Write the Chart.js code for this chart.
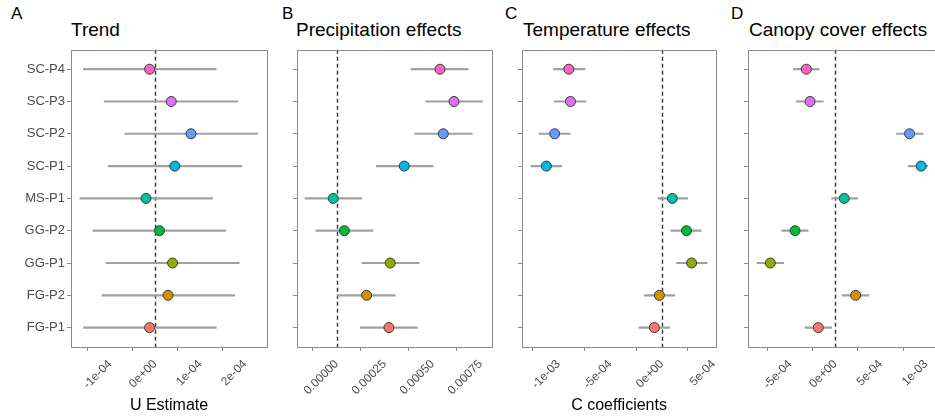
<!DOCTYPE html>
<html>
<head>
<meta charset="utf-8">
<script src="https://cdn.jsdelivr.net/npm/chart.js@4.4.0/dist/chart.umd.min.js"></script>
<style>
  html, body { margin: 0; padding: 0; background: #fff; overflow: hidden; }
  body { width: 935px; height: 419px; position: relative; font-family: "Liberation Sans", Arial, sans-serif; }
  canvas { position: absolute; top: 40px; }
  .letter { position: absolute; top: 5px; font-size: 17px; line-height: 17px; color: #000; }
  .title { position: absolute; top: 20px; font-size: 19px; line-height: 19px; color: #000; white-space: nowrap; }
</style>
</head>
<body>
<div class="letter" style="left:11px">A</div>
<div class="letter" style="left:282px">B</div>
<div class="letter" style="left:505px">C</div>
<div class="letter" style="left:731px">D</div>
<div class="title" style="left:71px">Trend</div>
<div class="title" style="left:296px">Precipitation effects</div>
<div class="title" style="left:523px">Temperature effects</div>
<div class="title" style="left:749px">Canopy cover effects</div>

<canvas id="chartA" width="279" height="379" style="left:0px"></canvas>
<canvas id="chartB" width="227" height="379" style="left:277px"></canvas>
<canvas id="chartC" width="228" height="379" style="left:502px"></canvas>
<canvas id="chartD" width="228" height="379" style="left:728px"></canvas>

<script>
// categories, top to bottom
const categories = ['SC-P4', 'SC-P3', 'SC-P2', 'SC-P1', 'MS-P1', 'GG-P2', 'GG-P1', 'FG-P2', 'FG-P1'];
const pointColors = ['#FF61C3', '#DB72FB', '#619CFF', '#00B9E3', '#00C19F', '#00BA38', '#93AA00', '#D39200', '#F8766D'];

// A - Trend (U estimate)
const trendEst = [-1.2e-5, 3.6e-5, 8.0e-5, 4.4e-5, -2.0e-5, 1.0e-5, 3.9e-5, 2.9e-5, -1.2e-5];
const trendLo = [-1.59e-4, -1.13e-4, -0.67e-4, -1.04e-4, -1.67e-4, -1.38e-4, -1.09e-4, -1.18e-4, -1.59e-4];
const trendHi = [1.36e-4, 1.84e-4, 2.28e-4, 1.93e-4, 1.28e-4, 1.57e-4, 1.87e-4, 1.77e-4, 1.36e-4];
const trendTicks = [-1e-4, 0, 1e-4, 2e-4];
const trendTickLabels = ['-1e-04', '0e+00', '1e-04', '2e-04'];

// B - Precipitation effects
const precipEst = [0.000538, 0.000611, 0.000555, 0.000352, -0.000018, 0.000040, 0.000279, 0.000156, 0.000272];
const precipLo = [0.000387, 0.000464, 0.000408, 0.000206, -0.000165, -0.000108, 0.000132, 0.000000, 0.000123];
const precipHi = [0.000685, 0.000760, 0.000706, 0.000502, 0.000130, 0.000189, 0.000429, 0.000305, 0.000420];
const precipTicks = [0, 0.00025, 0.0005, 0.00075];
const precipTickLabels = ['0.00000', '0.00025', '0.00050', '0.00075'];

// C - Temperature effects
const tempEst = [-9.0e-4, -8.84e-4, -1.037e-3, -1.117e-3, 1.0e-4, 2.37e-4, 2.87e-4, -2.5e-5, -7.3e-5];
const tempLo = [-1.047e-3, -1.04e-3, -1.188e-3, -1.267e-3, -3.8e-5, 8.6e-5, 1.41e-4, -1.69e-4, -2.23e-4];
const tempHi = [-7.43e-4, -7.34e-4, -8.87e-4, -9.7e-4, 2.49e-4, 3.8e-4, 4.38e-4, 1.25e-4, 7.4e-5];
const tempTicks = [-1e-3, -5e-4, 0, 5e-4];
const tempTickLabels = ['-1e-03', '-5e-04', '0e+00', '5e-04'];

// D - Canopy cover effects
const canopyEst = [-3.2e-4, -2.79e-4, 8.21e-4, 9.49e-4, 9.9e-5, -4.45e-4, -7.18e-4, 2.25e-4, -1.88e-4];
const canopyLo = [-4.64e-4, -4.3e-4, 6.78e-4, 8.06e-4, -4.0e-5, -5.92e-4, -8.64e-4, 7.7e-5, -3.35e-4];
const canopyHi = [-1.77e-4, -1.32e-4, 9.71e-4, 1.02e-3, 2.47e-4, -3.01e-4, -5.7e-4, 3.72e-4, -4.0e-5];
const canopyTicks = [-5e-4, 0, 5e-4, 1e-3];
const canopyTickLabels = ['-5e-04', '0e+00', '5e-04', '1e-03'];

const textGrey = '#4d4d4d';
const FONT = '"Liberation Sans", Arial, sans-serif';

// dashed zero line + panel border
const framePlugin = {
    id: 'frame',
    beforeDatasetsDraw(chart) {
        const { ctx, chartArea: a } = chart;
        const x0 = Math.round(chart.scales.x.getPixelForValue(0)) + 0.5;
        ctx.save();
        ctx.strokeStyle = '#333';
        ctx.lineWidth = 1.4;
        ctx.setLineDash([4, 3]);
        ctx.beginPath();
        ctx.moveTo(x0, a.top);
        ctx.lineTo(x0, a.bottom);
        ctx.stroke();
        ctx.restore();
    },
    afterDraw(chart) {
        const { ctx, chartArea: a } = chart;
        ctx.save();
        ctx.strokeStyle = '#8a8a8a';
        ctx.lineWidth = 1;
        ctx.strokeRect(Math.round(a.left) + 0.5, Math.round(a.top) + 0.5,
            Math.round(a.right - a.left), Math.round(a.bottom - a.top));
        ctx.restore();
    }
};

function makePanel(id, est, lo, hi, xMin, xMax, tickVals, tickLabels, xTitle, yWidth, showLabels) {
    const ctx = document.getElementById(id).getContext('2d');
    return new Chart(ctx, {
        type: 'bar',
        data: {
            datasets: [{
                type: 'bar',
                indexAxis: 'y',
                data: categories.map((c, i) => ({ y: i, x: [lo[i], hi[i]] })),
                backgroundColor: '#a0a0a0',
                borderWidth: 0,
                barThickness: 1.5,
                order: 2
            }, {
                type: 'scatter',
                data: categories.map((c, i) => ({ x: est[i], y: i })),
                pointRadius: 5,
                pointBackgroundColor: pointColors,
                pointBorderColor: '#3a3a3a',
                pointBorderWidth: 1,
                order: 1
            }]
        },
        options: {
            responsive: false,
            animation: false,
            devicePixelRatio: 1,
            layout: { padding: { top: 6, right: 12, left: 0, bottom: 0 } },
            plugins: { legend: { display: false }, tooltip: { enabled: false } },
            scales: {
                x: {
                    type: 'linear',
                    min: xMin,
                    max: xMax,
                    offset: false,
                    beginAtZero: false,
                    border: { display: false },
                    grid: { drawOnChartArea: false, drawTicks: true, tickLength: 4, color: '#8a8a8a' },
                    afterBuildTicks: s => { s.ticks = tickVals.map(v => ({ value: v })); },
                    afterFit: s => { s.height = 72; },
                    ticks: {
                        minRotation: 45,
                        maxRotation: 45,
                        autoSkip: false,
                        padding: 6,
                        color: textGrey,
                        font: { family: FONT, size: 12 },
                        callback: (v, i) => tickLabels[i]
                    },
                    title: {
                        display: xTitle !== '',
                        text: xTitle,
                        color: '#000',
                        font: { family: FONT, size: 16 },
                        padding: { top: 0, bottom: 4 }
                    }
                },
                y: {
                    type: 'linear',
                    min: -0.6,
                    max: 8.6,
                    reverse: true,
                    offset: false,
                    border: { display: false },
                    grid: { drawOnChartArea: false, drawTicks: true, tickLength: 4, color: '#8a8a8a', offset: false },
                    afterBuildTicks: s => { s.ticks = categories.map((c, i) => ({ value: i })); },
                    afterFit: s => { s.width = yWidth; },
                    ticks: {
                        autoSkip: false,
                        padding: 2,
                        color: textGrey,
                        font: { family: FONT, size: 13 },
                        callback: (v, i) => showLabels ? categories[i] : ''
                    }
                }
            }
        },
        plugins: [framePlugin]
    });
}

makePanel('chartA', trendEst, trendLo, trendHi, -1.867e-4, 2.489e-4, trendTicks, trendTickLabels, 'U Estimate', 71, true);
makePanel('chartB', precipEst, precipLo, precipHi, -0.0002068, 0.000809, precipTicks, precipTickLabels, '', 20, false);
makePanel('chartC', tempEst, tempLo, tempHi, -1.3527e-3, 5.236e-4, tempTicks, tempTickLabels, 'C coefficients', 20, false);
makePanel('chartD', canopyEst, canopyLo, canopyHi, -9.65e-4, 1.2016e-3, canopyTicks, canopyTickLabels, '', 20, false);
</script>
</body>
</html>
